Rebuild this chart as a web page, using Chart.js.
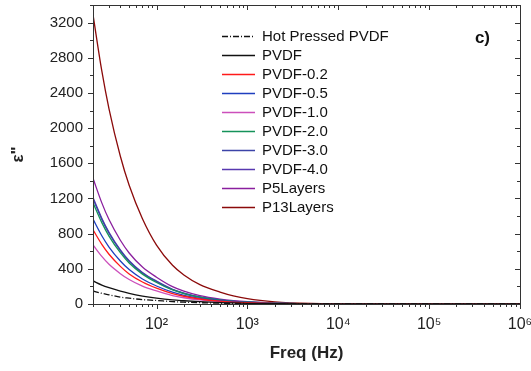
<!DOCTYPE html>
<html>
<head>
<meta charset="utf-8">
<script src="https://cdn.jsdelivr.net/npm/chart.js@4.4.1/dist/chart.umd.min.js"></script>
<style>
  html, body { margin: 0; padding: 0; background: #fff; }
  #wrap { width: 531px; height: 371px; }
</style>
</head>
<body>
<div id="wrap"><canvas id="lossChart" width="531" height="371"></canvas></div>
<script>
// frequencies (Hz) the curves were read at
const freq = [20, 25, 30, 40, 50, 70, 100, 150, 200, 300, 500, 700, 1000, 2000, 5000, 10000, 100000, 1000000];

// epsilon''
const hotPressed = [148, 122, 105, 78, 66, 50, 40, 27, 21, 15, 9, 7, 5, 2.5, 1, 0.5, 0, 0];
const pvdf       = [262, 215, 185, 145, 120, 90, 66, 46, 37, 26, 16, 12, 8, 4, 1, 0.5, 0, 0];
const pvdf02     = [843, 678, 566, 428, 342, 250, 180, 118, 88, 57, 32, 22, 15, 6, 2, 0.5, 0, 0];
const pvdf05     = [965, 776, 648, 489, 391, 285, 205, 134, 99, 65, 37, 26, 18, 7, 2, 0.5, 0, 0];
const pvdf10     = [672, 541, 451, 345, 278, 203, 148, 96, 71, 46, 26, 18, 12, 5, 1.5, 0.5, 0, 0];
const pvdf20     = [1150, 925, 772, 583, 466, 340, 245, 160, 118, 77, 44, 30, 21, 9, 2, 1, 0, 0];
const pvdf30     = [1195, 962, 805, 607, 485, 352, 255, 165, 122, 79, 46, 31, 21, 9, 2.5, 1, 0, 0];
const pvdf40     = [1210, 975, 815, 615, 492, 358, 260, 168, 124, 80, 47, 32, 22, 9, 2.5, 1, 0, 0];
const p5Layers   = [1430, 1150, 960, 725, 580, 420, 305, 197, 146, 95, 55, 38, 26, 11, 3, 1, 0, 0];
const p13Layers  = [3290, 2650, 2220, 1680, 1350, 970, 670, 440, 330, 220, 135, 92, 60, 25, 6, 2, 0, 0];

const xTickValues = [100, 1000, 10000, 100000, 1000000];
const xTickLabels = ['10\u00B2', '10\u00B3', '10\u2074', '10\u2075', '10\u2076'];
const yTickValues = [0, 400, 800, 1200, 1600, 2000, 2400, 2800, 3200];
const yMinorStep = 200;

const pts = arr => arr.map((v, i) => ({ x: freq[i], y: v }));

const series = [
    { label: 'Hot Pressed PVDF', data: hotPressed, color: '#111111', dash: [6, 2, 1, 2] },
    { label: 'PVDF',       data: pvdf,      color: '#111111' },
    { label: 'PVDF-0.2',   data: pvdf02,    color: '#ff1a1a' },
    { label: 'PVDF-0.5',   data: pvdf05,    color: '#1f3fbf' },
    { label: 'PVDF-1.0',   data: pvdf10,    color: '#cc4fbb' },
    { label: 'PVDF-2.0',   data: pvdf20,    color: '#15925a' },
    { label: 'PVDF-3.0',   data: pvdf30,    color: '#3c44a8' },
    { label: 'PVDF-4.0',   data: pvdf40,    color: '#5838b0' },
    { label: 'P5Layers',   data: p5Layers,  color: '#8a1f9e' },
    { label: 'P13Layers',  data: p13Layers, color: '#8b0a0a' }
];

const FONT = "'Liberation Sans', Arial, sans-serif";

// frame, inside/outside ticks, legend and panel letter
const framePlugin = {
    id: 'framePlugin',
    afterDraw(chart) {
        const { ctx, chartArea: a, scales: { x, y } } = chart;
        ctx.save();
        ctx.strokeStyle = '#333';
        ctx.lineWidth = 1;
        ctx.strokeRect(Math.round(a.left) + 0.5, Math.round(a.top) + 0.5,
            Math.round(a.right - a.left), Math.round(a.bottom - a.top));

        ctx.beginPath();
        // y ticks
        for (let v = 0; v <= y.max; v += yMinorStep) {
            const py = Math.round(y.getPixelForValue(v)) + 0.5;
            const len = yTickValues.includes(v) ? 5 : 3;
            ctx.moveTo(a.left, py); ctx.lineTo(a.left - len, py);
            ctx.moveTo(a.right, py); ctx.lineTo(a.right - len, py);
        }
        // x ticks (log)
        for (let dec = 10; dec <= 1000000; dec *= 10) {
            for (let m = 1; m <= 9; m++) {
                const v = dec * m;
                if (v < x.min || v > x.max) continue;
                const px = Math.round(x.getPixelForValue(v)) + 0.5;
                const len = m === 1 ? 5 : 3;
                ctx.moveTo(px, a.bottom); ctx.lineTo(px, a.bottom + len);
                ctx.moveTo(px, a.top); ctx.lineTo(px, a.top + len);
            }
        }
        ctx.stroke();

        // legend
        ctx.font = '15px ' + FONT;
        ctx.textBaseline = 'middle';
        ctx.fillStyle = '#111';
        const lx = 222, ly = 36, step = 19;
        chart.data.datasets.forEach((ds, i) => {
            const yy = Math.round(ly + i * step) + 0.5;
            ctx.beginPath();
            ctx.strokeStyle = ds.borderColor;
            ctx.lineWidth = 1.3;
            ctx.setLineDash(ds.borderDash || []);
            ctx.moveTo(lx, yy); ctx.lineTo(lx + 33, yy);
            ctx.stroke();
            ctx.setLineDash([]);
            ctx.fillText(ds.label, lx + 40, yy);
        });

        ctx.font = 'bold 17px ' + FONT;
        ctx.textAlign = 'right';
        ctx.fillText('c)', 490, 38);
        ctx.restore();
    }
};

const ctx = document.getElementById('lossChart').getContext('2d');
new Chart(ctx, {
    type: 'line',
    data: {
        datasets: series.map(s => ({
            label: s.label,
            data: pts(s.data),
            borderColor: s.color,
            backgroundColor: s.color,
            borderWidth: 1.3,
            borderDash: s.dash || [],
            pointRadius: 0,
            fill: false,
            cubicInterpolationMode: 'monotone'
        }))
    },
    options: {
        responsive: false,
        animation: false,
        devicePixelRatio: 1,
        layout: { padding: { left: 0, right: 11, top: 5, bottom: 0 } },
        plugins: {
            legend: { display: false },
            tooltip: { enabled: false }
        },
        scales: {
            x: {
                type: 'logarithmic',
                min: 20,
                max: 1000000,
                grid: { display: false, drawTicks: false },
                border: { display: false },
                afterBuildTicks: scale => {
                    scale.ticks = xTickValues.map(v => ({ value: v }));
                },
                afterFit: scale => {
                    scale.height = 67;
                    scale.paddingLeft = 0;
                    scale.paddingRight = 0;
                },
                ticks: {
                    autoSkip: false,
                    maxRotation: 0,
                    padding: 11,
                    color: '#222',
                    font: { family: FONT, size: 16 },
                    callback: (val) => {
                        const i = xTickValues.indexOf(val);
                        return i >= 0 ? xTickLabels[i] : '';
                    }
                },
                title: {
                    display: true,
                    text: 'Freq (Hz)',
                    color: '#222',
                    font: { family: FONT, size: 17, weight: 'bold' },
                    padding: { top: 0, bottom: 7 }
                }
            },
            y: {
                min: 0,
                max: 3400,
                grid: { display: false, drawTicks: false },
                border: { display: false },
                afterBuildTicks: scale => {
                    scale.ticks = yTickValues.map(v => ({ value: v }));
                },
                afterFit: scale => {
                    scale.width = 93;
                    scale.paddingTop = 0;
                    scale.paddingBottom = 0;
                },
                ticks: {
                    autoSkip: false,
                    padding: 10,
                    color: '#222',
                    font: { family: FONT, size: 15 },
                    callback: (val) => String(val)
                },
                title: {
                    display: true,
                    text: '\u03B5"',
                    color: '#222',
                    font: { family: FONT, size: 17, weight: 'bold' },
                    padding: { top: 8, bottom: 0 }
                }
            }
        }
    },
    plugins: [framePlugin]
});
</script>
</body>
</html>
